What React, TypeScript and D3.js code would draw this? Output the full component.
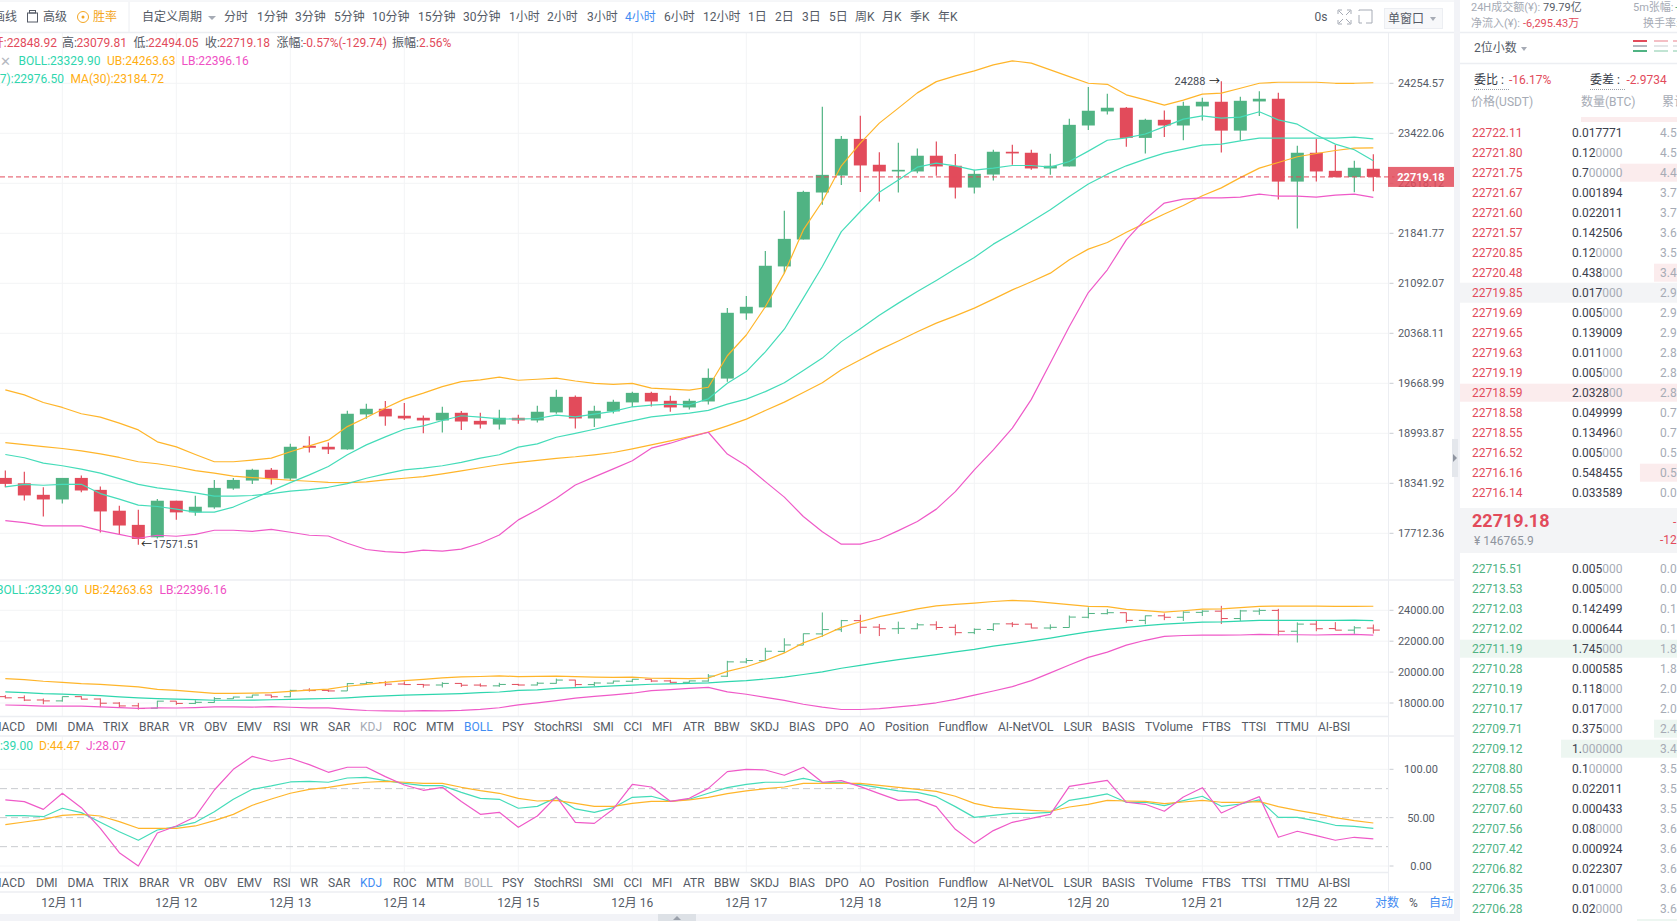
import React, { useEffect, useRef } from "react";
import * as d3 from "d3";

const width = 1677;
const height = 921;

// 4h candles, 12-10 12:00 to 12-22 12:00
const open = [
  18411, 18342, 18195, 18136, 18411, 18258, 17994, 17817, 17663, 18120,
  17973, 18036, 18275, 18377, 18516, 18403, 18829, 18816, 18781, 19246,
  19322, 19228, 19201, 19165, 19268, 19160, 19111, 19201, 19165, 19273,
  19484, 19192, 19286, 19408, 19538, 19430, 19340, 19421, 19734, 20653,
  20740, 21342, 21747, 22473, 22741, 23331, 22913, 22806, 22806, 23058,
  22897, 22551, 22757, 23122, 23106, 22854, 22886, 23550, 23783, 23844,
  23347, 23644, 23550, 23866, 23944, 23466, 23949, 23994, 22645, 23106,
  22816, 22715, 22848.92,
];
const close = [
  18334, 18187, 18136, 18411, 18250, 17985, 17809, 17643, 18120, 17973,
  18044, 18283, 18385, 18516, 18403, 18816, 18803, 18781, 19255, 19322,
  19219, 19192, 19165, 19268, 19151, 19111, 19201, 19165, 19282, 19484,
  19192, 19295, 19417, 19538, 19421, 19340, 19430, 19744, 20662, 20749,
  21352, 21757, 22483, 22752, 23331, 22902, 22806, 22832, 23058, 22886,
  22551, 22768, 23122, 23095, 22854, 22897, 23561, 23794, 23844, 23347,
  23644, 23550, 23877, 23944, 23466, 23960, 23994, 22645, 23106, 22806,
  22715, 22865, 22719.18,
];
const high = [
  18507, 18490, 18292, 18411, 18442, 18300, 18057, 18006, 18141, 18120,
  18183, 18385, 18411, 18529, 18538, 18855, 18955, 18872, 19295, 19390,
  19426, 19399, 19232, 19349, 19291, 19268, 19309, 19241, 19363, 19579,
  19502, 19363, 19444, 19552, 19552, 19498, 19457, 19874, 20730, 20904,
  21572, 22188, 22499, 23860, 23379, 23711, 23116, 23267, 23175, 23288,
  23084, 22832, 23154, 23234, 23154, 23090, 23661, 24194, 24077, 23855,
  23661, 23799, 23944, 24010, 24288, 24027, 24121, 24094, 23218, 23331,
  23234, 22977, 23079.81,
];
const low = [
  18292, 18124, 17922, 18086, 18229, 17721, 17704, 17571.51, 17647, 17880,
  17931, 18019, 18258, 18334, 18325, 18377, 18742, 18720, 18777, 19187,
  19093, 19170, 18994, 19003, 19039, 19057, 19044, 19120, 19138, 19255,
  19057, 19079, 19260, 19345, 19354, 19282, 19313, 19381, 19692, 20561,
  20740, 21242, 21747, 22281, 22592, 22483, 22333, 22473, 22779, 22736,
  22380, 22457, 22661, 22913, 22832, 22752, 22886, 23478, 23733, 23202,
  23095, 23363, 23309, 23633, 23111, 23309, 23705, 22364, 21914, 22645,
  22715, 22478, 22494.05,
];

const ma7 = [
  18295, 18329, 18317, 18329, 18329, 18211, 18141, 18065, 18047, 18015,
  17977, 17977, 18040, 18141, 18245, 18350, 18450, 18558, 18711, 18841,
  18946, 19048, 19093, 19164, 19228, 19210, 19187, 19183, 19191, 19237,
  19214, 19250, 19286, 19349, 19372, 19385, 19376, 19457, 19669, 19831,
  20106, 20426, 20875, 21341, 21867, 22177, 22478, 22671, 22875, 22940,
  22896, 22827, 22859, 22901, 22901, 22875, 22965, 23132, 23309, 23346,
  23411, 23532, 23655, 23710, 23672, 23688, 23777, 23643, 23572, 23395,
  23245, 23154, 22976.5,
];
const ma30 = [
  18871, 18845, 18819, 18793, 18763, 18724, 18676, 18620, 18594, 18555,
  18506, 18472, 18433, 18415, 18398, 18381, 18368, 18355, 18350, 18359,
  18385, 18407, 18428, 18463, 18502, 18542, 18581, 18611, 18639, 18665,
  18685, 18711, 18741, 18789, 18841, 18893, 18950, 19009, 19093, 19183,
  19299, 19412, 19542, 19677, 19855, 19995, 20134, 20260, 20391, 20513,
  20618, 20730, 20860, 20995, 21116, 21242, 21442, 21602, 21701, 21857,
  21997, 22137, 22271, 22422, 22546, 22708, 22859, 22949, 23041, 23094,
  23142, 23181, 23184.72,
];
const boll = [
  18715, 18672, 18603, 18568, 18525, 18472, 18402, 18329, 18283, 18254,
  18220, 18179, 18179, 18186, 18211, 18241, 18261, 18291, 18338, 18407,
  18463, 18515, 18538, 18568, 18611, 18668, 18711, 18811, 18854, 18942,
  18994, 19048, 19106, 19160, 19214, 19241, 19264, 19301, 19385, 19453,
  19555, 19677, 19845, 20018, 20250, 20433, 20626, 20802, 20970, 21134,
  21307, 21476, 21677, 21842, 22022, 22204, 22410, 22607, 22763, 22896,
  23004, 23100, 23165, 23229, 23245, 23298, 23342, 23342, 23342, 23342,
  23342, 23358, 23329.9,
];
const ub = [
  19579, 19511, 19407, 19340, 19255, 19210, 19129, 19039, 18881, 18815,
  18715, 18620, 18620, 18642, 18668, 18750, 18828, 18903, 19083, 19205,
  19332, 19453, 19534, 19623, 19691, 19715, 19753, 19711, 19725, 19739,
  19701, 19669, 19655, 19669, 19602, 19588, 19575, 19615, 20051, 20344,
  20749, 21242, 21893, 22333, 22896, 23261, 23589, 23838, 24093, 24283,
  24380, 24467, 24570, 24639, 24599, 24484, 24369, 24255, 24238, 24060,
  23976, 23888, 23971, 24071, 24088, 24171, 24255, 24272, 24272, 24272,
  24255, 24255, 24263.63,
];
const lb = [
  17871, 17845, 17804, 17804, 17804, 17745, 17700, 17651, 17688, 17676,
  17700, 17750, 17750, 17737, 17762, 17725, 17688, 17679, 17590, 17513,
  17488, 17476, 17505, 17493, 17518, 17590, 17691, 17879, 18005, 18151,
  18320, 18424, 18528, 18633, 18798, 18863, 18942, 19008, 18720, 18568,
  18363, 18166, 17921, 17732, 17578, 17578, 17639, 17745, 17858, 18014,
  18236, 18515, 18776, 19062, 19449, 19949, 20464, 20956, 21292, 21742,
  22059, 22308, 22370, 22390, 22390, 22401, 22447, 22416, 22416, 22401,
  22432, 22447, 22396.16,
];

const kValues = [
  52.1, 52.1, 51, 59.7, 55.2, 45.2, 35.5, 26.6, 37.2, 40.7,
  45.2, 56.2, 69, 79.3, 82.8, 86.9, 87.6, 86.6, 91, 91.7,
  88.3, 85.5, 83.1, 83.1, 76.2, 70, 69, 59.7, 61.7, 70.7,
  59, 55.5, 60.3, 71, 72.1, 66.9, 69, 75.2, 81, 84.5,
  86.6, 86.6, 90.7, 86.6, 86.2, 84.1, 81, 77.6, 76.2, 71.7,
  61.4, 50.3, 52.4, 54.5, 54.5, 55.5, 67.9, 71, 74.5, 65.9,
  65.9, 62.4, 67.6, 72.1, 61.7, 64.1, 68.3, 50.3, 50.3, 46.6,
  42.1, 41, 39,
];
const dValues = [
  42.8, 45.5, 48.3, 52.4, 53.4, 51.7, 45.9, 39, 39, 39,
  41.4, 46.9, 53.4, 62.8, 69.3, 75.2, 79.3, 81.4, 84.5, 86.6,
  87.6, 86.6, 85.5, 85.5, 81.4, 77.9, 75.2, 70, 67.2, 67.9,
  64.8, 61.7, 61.7, 64.8, 66.9, 66.9, 68.3, 71, 74.8, 77.6,
  80, 81.7, 85.5, 85.5, 85.5, 85.5, 83.4, 81.4, 79.3, 77.2,
  72.1, 64.8, 60.7, 59, 57.6, 56.6, 61, 63.8, 67.9, 67.2,
  66.9, 64.5, 66.2, 67.9, 65.9, 65.9, 66.6, 61.4, 57.6, 54.1,
  50, 46.9, 44.47,
];
const jValues = [
  68.3, 66.6, 58.6, 75.2, 60.3, 39, 13.8, 0, 34.1, 41.4,
  51, 78.6, 100, 113.4, 108.3, 111.4, 104.8, 96.9, 102.1, 102.1,
  92.4, 83.8, 78.3, 81.4, 66.6, 53.4, 55.5, 40, 51.7, 71.7,
  45.2, 44.1, 59, 84.5, 81.7, 66.9, 70, 80.3, 97.6, 100,
  99.3, 93.8, 102.1, 86.6, 88.3, 82.1, 74.8, 67.9, 68.6, 61.4,
  37.9, 23.4, 36.6, 45.2, 49.3, 53.4, 82.4, 85.5, 88.6, 65.9,
  63.8, 56.6, 71.4, 81, 54.8, 63.8, 71.7, 29.7, 35.9, 31.4,
  26.6, 29.7, 28.07,
];

const priceTicks = [24254.57, 23422.06, 22618.12, 21841.77, 21092.07, 20368.11, 19668.99, 18993.87, 18341.92, 17712.36];
const bollTicks = [24000, 22000, 20000, 18000];
const kdjTicks = [100, 50, 0];
const kdjDashed = [80, 50, 20];
const dateLabels = ["12月 11", "12月 12", "12月 13", "12月 14", "12月 15", "12月 16", "12月 17", "12月 18", "12月 19", "12月 20", "12月 21", "12月 22"];
const lastPrice = 22719.18;

const periods = ["分时", "1分钟", "3分钟", "5分钟", "10分钟", "15分钟", "30分钟", "1小时", "2小时", "3小时", "4小时", "6小时", "12小时", "1日", "2日", "3日", "5日", "周K", "月K", "季K", "年K"];
const periodX = [224, 257, 295, 334, 372, 418, 463, 509, 547, 587, 625, 664, 703, 748, 775, 802, 829, 855, 882, 910, 938];

const indicators = ["DMI", "DMA", "TRIX", "BRAR", "VR", "OBV", "EMV", "RSI", "WR", "SAR", "KDJ", "ROC", "MTM", "BOLL", "PSY", "StochRSI", "SMI", "CCI", "MFI", "ATR", "BBW", "SKDJ", "BIAS", "DPO", "AO", "Position", "Fundflow", "AI-NetVOL", "LSUR", "BASIS", "TVolume", "FTBS", "TTSI", "TTMU", "AI-BSI"];
const indicatorX = [36, 67.5, 103, 139, 179, 204, 237, 273, 300, 328, 360, 393, 426, 464, 502, 534, 593, 623.5, 652, 683, 714, 750, 789, 825, 859, 885, 938.5, 998, 1063.5, 1102, 1145, 1202, 1241.5, 1276, 1318];

const askPrices = ["22722.11", "22721.80", "22721.75", "22721.67", "22721.60", "22721.57", "22720.85", "22720.48", "22719.85", "22719.69", "22719.65", "22719.63", "22719.19", "22718.59", "22718.58", "22718.55", "22716.52", "22716.16", "22716.14"];
const askQty = ["0.017771", "0.120000", "0.700000", "0.001894", "0.022011", "0.142506", "0.120000", "0.438000", "0.017000", "0.005000", "0.139009", "0.011000", "0.005000", "2.032800", "0.049999", "0.134960", "0.005000", "0.548455", "0.033589"];
const askTotal = ["4.5", "4.5", "4.4", "3.7", "3.7", "3.6", "3.5", "3.4", "2.9", "2.9", "2.9", "2.8", "2.8", "2.8", "0.7", "0.7", "0.5", "0.5", "0.0"];
const bidPrices = ["22715.51", "22713.53", "22712.03", "22712.02", "22711.19", "22710.28", "22710.19", "22710.17", "22709.71", "22709.12", "22708.80", "22708.55", "22707.60", "22707.56", "22707.42", "22706.82", "22706.35", "22706.28"];
const bidQty = ["0.005000", "0.005000", "0.142499", "0.000644", "1.745000", "0.000585", "0.118000", "0.017000", "0.375000", "1.000000", "0.100000", "0.022011", "0.000433", "0.080000", "0.000924", "0.022307", "0.010000", "0.020000"];
const bidTotal = ["0.0", "0.0", "0.1", "0.1", "1.8", "1.8", "2.0", "2.0", "2.4", "3.4", "3.5", "3.5", "3.5", "3.6", "3.6", "3.6", "3.6", "3.6"];

const green = "#50b383";
const red = "#e24b5b";
const teal = "#45dcb9";
const orange = "#ffb52a";
const pink = "#ef5ac8";
const gridColor = "#f3f4f6";
const lineColor = "#eceef2";
const panelBg = "#f2f3f7";
const textColor = "#555b66";
const mutedColor = "#a6abb5";
const blue = "#3f8cf2";
const font = 'Roboto, "Noto Sans CJK SC", sans-serif';

type Sel = d3.Selection<any, unknown, null, undefined>;

const label = (
  g: Sel,
  x: number,
  y: number,
  value: string,
  color: string,
  size = 12,
  anchor = "start",
  weight = "normal"
) =>
  g
    .append("text")
    .attr("x", x)
    .attr("y", y)
    .attr("dy", "0.35em")
    .attr("fill", color)
    .attr("font-size", size)
    .attr("font-weight", weight)
    .attr("text-anchor", anchor)
    .text(value);

const hLine = (g: Sel, x1: number, x2: number, y: number, color: string, w = 1) =>
  g
    .append("line")
    .attr("x1", x1)
    .attr("x2", x2)
    .attr("y1", y)
    .attr("y2", y)
    .attr("stroke", color)
    .attr("stroke-width", w);

const App = () => {
  const ref = useRef(null);

  useEffect(() => {
    const svg = d3.select(ref.current);
    svg.selectAll("*").remove();
    svg.append("rect").attr("width", width).attr("height", height).attr("fill", "white");

    const xScale = d3.scaleLinear().domain([0, 72]).range([5.33, 1373.33]);
    const priceScale = d3.scaleLog().domain([17712.36, 24254.57]).range([533.3, 83.3]);
    const bollScale = d3.scaleLinear().domain([18000, 24000]).range([703, 610.3]);
    const kdjScale = d3.scaleLinear().domain([0, 100]).range([866, 769.3]);
    const axisX = 1388.5;
    const index = d3.range(open.length);
    const dateIndex = dateLabels.map((_, i) => 3 + i * 6);

    // grid
    const grid = svg.append("g");
    const panes = [
      [33, 580],
      [580, 716],
      [736, 872],
    ];
    panes.forEach(([top, bottom]) => {
      grid
        .selectAll(null)
        .data(dateIndex)
        .enter()
        .append("line")
        .attr("x1", (d) => xScale(d))
        .attr("x2", (d) => xScale(d))
        .attr("y1", top)
        .attr("y2", bottom)
        .attr("stroke", gridColor);
    });
    priceTicks.forEach((t) => hLine(grid, 0, axisX, priceScale(t), gridColor));
    bollTicks.forEach((t) => hLine(grid, 0, axisX, bollScale(t), gridColor));
    kdjTicks.filter((t) => t !== 50).forEach((t) => hLine(grid, 0, axisX, kdjScale(t), gridColor));
    kdjDashed.forEach((t) =>
      hLine(grid, 0, axisX, kdjScale(t), "#c9cbcf").attr("stroke-dasharray", "7 4")
    );

    // separators
    hLine(svg, 0, 1454, 1, lineColor);
    hLine(svg, 0, 1454, 32.5, lineColor, 1.5);
    hLine(svg, 0, 1454, 580, lineColor, 1.5);
    hLine(svg, 0, axisX, 716.5, lineColor, 1.5);
    hLine(svg, 0, 1454, 736, lineColor, 1.5);
    hLine(svg, 0, axisX, 872.5, lineColor, 1.5);
    hLine(svg, 0, 1454, 892, lineColor, 1.5);
    svg
      .append("line")
      .attr("x1", axisX)
      .attr("x2", axisX)
      .attr("y1", 33)
      .attr("y2", 892)
      .attr("stroke", lineColor);

    // main candles
    const candles = svg.append("g");
    candles
      .selectAll("line")
      .data(index)
      .enter()
      .append("line")
      .attr("x1", (i) => xScale(i))
      .attr("x2", (i) => xScale(i))
      .attr("y1", (i) => priceScale(high[i]))
      .attr("y2", (i) => priceScale(low[i]))
      .attr("stroke", (i) => (close[i] >= open[i] ? green : red))
      .attr("stroke-width", 1.2);
    candles
      .selectAll("rect")
      .data(index)
      .enter()
      .append("rect")
      .attr("x", (i) => xScale(i) - 6.5)
      .attr("width", 13)
      .attr("y", (i) => priceScale(Math.max(open[i], close[i])))
      .attr("height", (i) => Math.abs(priceScale(open[i]) - priceScale(close[i])))
      .attr("fill", (i) => (close[i] >= open[i] ? green : red));

    const drawLine = (g: Sel, values: number[], scale: (v: number) => number, color: string) => {
      const line = d3
        .line<number>()
        .x((_, i) => xScale(i))
        .y((d) => scale(d));
      g.append("path")
        .datum(values)
        .attr("d", line)
        .attr("fill", "none")
        .attr("stroke", color)
        .attr("stroke-width", 1.2)
        .attr("stroke-linejoin", "round");
    };

    const mainLines = svg.append("g");
    drawLine(mainLines, ma30, priceScale, orange);
    drawLine(mainLines, ma7, priceScale, teal);
    drawLine(mainLines, ub, priceScale, orange);
    drawLine(mainLines, boll, priceScale, teal);
    drawLine(mainLines, lb, priceScale, pink);

    // last price
    hLine(svg, 0, axisX + 6, priceScale(lastPrice), red).attr("stroke-dasharray", "5 3");

    // price axis
    const axis = svg.append("g");
    priceTicks.forEach((t) => {
      hLine(axis, axisX + 1, axisX + 5, priceScale(t), "#c9ccd2");
      label(axis, 1421, priceScale(t), t.toFixed(2), textColor, 11, "middle");
    });
    bollTicks.forEach((t) => {
      hLine(axis, axisX + 1, axisX + 5, bollScale(t), "#c9ccd2");
      label(axis, 1421, bollScale(t), t.toFixed(2), textColor, 11, "middle");
    });
    kdjTicks.forEach((t) => {
      hLine(axis, axisX + 1, axisX + 5, kdjScale(t), "#c9ccd2");
      label(axis, 1421, kdjScale(t), t.toFixed(2), textColor, 11, "middle");
    });
    axis
      .append("rect")
      .attr("x", 1388)
      .attr("y", priceScale(lastPrice) - 10)
      .attr("width", 66)
      .attr("height", 20)
      .attr("fill", red)
      .attr("opacity", 0.85);
    label(axis, 1421, priceScale(lastPrice), lastPrice.toFixed(2), "white", 11, "middle", "bold");

    // high / low marks
    label(svg, 1205.5, priceScale(24288) - 0.5, "24288", "#444a55", 11, "end");
    label(svg, 1209, priceScale(24288), "→", "#222", 11);
    label(svg, 141, priceScale(17571.51) - 0.5, "←", "#222", 11);
    label(svg, 153, priceScale(17571.51) - 0.5, "17571.51", "#444a55", 11);

    // boll pane: open/close ticks
    const ohlc = svg.append("g");
    index.forEach((i) => {
      const c = close[i] >= open[i] ? green : red;
      const x = xScale(i);
      ohlc
        .append("line")
        .attr("x1", x)
        .attr("x2", x)
        .attr("y1", bollScale(high[i]))
        .attr("y2", bollScale(low[i]))
        .attr("stroke", c);
      hLine(ohlc, x - 6.5, x, bollScale(open[i]), c);
      hLine(ohlc, x, x + 6.5, bollScale(close[i]), c);
    });
    drawLine(ohlc, ub, bollScale, orange);
    drawLine(ohlc, boll, bollScale, "#2fd6ae");
    drawLine(ohlc, lb, bollScale, pink);

    // kdj pane
    const kdj = svg.append("g");
    drawLine(kdj, kValues, kdjScale, teal);
    drawLine(kdj, dValues, kdjScale, orange);
    drawLine(kdj, jValues, kdjScale, pink);

    // date axis
    dateLabels.forEach((d, i) => label(svg, xScale(dateIndex[i]), 903, d, textColor, 12, "middle"));
    label(svg, 1375, 903, "对数", blue);
    label(svg, 1409, 903, "%", textColor);
    label(svg, 1429, 903, "自动", blue);

    // indicator tabs
    [
      { y: 726.7, active: "BOLL", off: "KDJ" },
      { y: 882.7, active: "KDJ", off: "BOLL" },
    ].forEach((row) => {
      label(svg, 25, row.y, "MACD", textColor, 12, "end");
      indicators.forEach((name, i) => {
        const color = name === row.active ? blue : name === row.off ? mutedColor : textColor;
        label(svg, indicatorX[i], row.y, name, color);
      });
    });

    // legends
    const legend = svg.append("g");
    label(legend, 57, 42.7, "开:22848.92", red, 12, "end");
    label(legend, 62, 42.7, "高:", textColor);
    label(legend, 76.5, 42.7, "23079.81", red);
    label(legend, 133.5, 42.7, "低:", textColor);
    label(legend, 148, 42.7, "22494.05", red);
    label(legend, 205, 42.7, "收:", textColor);
    label(legend, 219.5, 42.7, "22719.18", red);
    label(legend, 276.5, 42.7, "涨幅:", textColor);
    label(legend, 303, 42.7, "-0.57%(-129.74)", red);
    label(legend, 392, 42.7, "振幅:", textColor);
    label(legend, 419, 42.7, "2.56%", red);
    label(legend, 0, 61, "✕", "#b4b8c0", 13);
    label(legend, 18.5, 60.7, "BOLL:23329.90", "#2fd6ae");
    label(legend, 107, 60.7, "UB:24263.63", "#ffae12");
    label(legend, 181.5, 60.7, "LB:22396.16", "#ef4fc4");
    label(legend, 64, 78.7, "MA(7):22976.50", "#2fd6ae", 12, "end");
    label(legend, 70.5, 78.7, "MA(30):23184.72", "#ffae12");
    label(legend, 78, 589.5, "BOLL:23329.90", "#2fd6ae", 12, "end");
    label(legend, 84.5, 589.5, "UB:24263.63", "#ffae12");
    label(legend, 159.5, 589.5, "LB:22396.16", "#ef4fc4");
    label(legend, 33, 745.7, "K:39.00", "#2fd6ae", 12, "end");
    label(legend, 39, 745.7, "D:44.47", "#ffae12");
    label(legend, 86, 745.7, "J:28.07", "#ef4fc4");

    // toolbar
    const bar = svg.append("g");
    label(bar, 17, 17, "画线", textColor, 12, "end");
    bar.append("rect").attr("x", 27.5).attr("y", 13).attr("width", 10).attr("height", 9).attr("fill", "none").attr("stroke", textColor);
    bar.append("rect").attr("x", 29.5).attr("y", 10.5).attr("width", 6).attr("height", 2.5).attr("fill", "none").attr("stroke", textColor);
    label(bar, 43, 17, "高级", textColor);
    bar.append("circle").attr("cx", 83).attr("cy", 17).attr("r", 5.5).attr("fill", "none").attr("stroke", "#f4a623");
    bar.append("circle").attr("cx", 83).attr("cy", 17).attr("r", 1.5).attr("fill", "#f4a623");
    label(bar, 93, 17, "胜率", "#f4a623");
    bar.append("line").attr("x1", 129).attr("x2", 129).attr("y1", 2).attr("y2", 32).attr("stroke", lineColor);
    label(bar, 142, 17, "自定义周期", textColor);
    bar.append("path").attr("d", "M208 16 L216 16 L212 20 Z").attr("fill", mutedColor);
    periods.forEach((p, i) => label(bar, periodX[i], 17, p, p === "4小时" ? blue : textColor));
    label(bar, 1314.5, 17, "0s", textColor);
    bar
      .append("path")
      .attr("d", "M1338 14 V10 H1342 M1347 10 H1351 V14 M1351 20 V24 H1347 M1342 24 H1338 V20 M1339 11 L1343 15 M1350 11 L1346 15 M1350 23 L1346 19 M1339 23 L1343 19")
      .attr("fill", "none")
      .attr("stroke", mutedColor);
    bar
      .append("path")
      .attr("d", "M1359 11 V10 H1372 V23 H1366 M1359 23 V15 M1359 23 H1362")
      .attr("fill", "none")
      .attr("stroke", mutedColor);
    bar.append("rect").attr("x", 1384.5).attr("y", 8.5).attr("width", 58).attr("height", 20).attr("fill", "#f7f8fa").attr("stroke", lineColor);
    label(bar, 1388, 18.5, "单窗口", textColor);
    bar.append("path").attr("d", "M1430 17 L1436 17 L1433 21 Z").attr("fill", mutedColor);

    // bottom bar and splitters
    svg.append("rect").attr("x", 0).attr("y", 914).attr("width", 1460).attr("height", 7).attr("fill", panelBg);
    svg.append("rect").attr("x", 658).attr("y", 914).attr("width", 38).attr("height", 7).attr("fill", "#dde1e6");
    svg.append("path").attr("d", "M673 920 L681 920 L677 916 Z").attr("fill", "#9aa0aa");
    svg.append("rect").attr("x", 1454).attr("y", 0).attr("width", 6).attr("height", height).attr("fill", panelBg);
    svg.append("rect").attr("x", 1452).attr("y", 439).attr("width", 6).attr("height", 38).attr("fill", "#e4e7ec");
    svg.append("path").attr("d", "M1453 454 L1453 462 L1457 458 Z").attr("fill", "#8f95a0");

    // order book header
    const book = svg.append("g");
    label(book, 1471, 7, "24H成交额(¥):", mutedColor, 11);
    label(book, 1543, 7, "79.79亿", textColor, 11);
    label(book, 1471, 23, "净流入(¥):", mutedColor, 11);
    label(book, 1523, 23, "-6,295.43万", red, 11);
    label(book, 1633, 7, "5m张幅:", mutedColor, 11);
    label(book, 1675, 7, "+", green, 11);
    label(book, 1643, 23, "换手率:", mutedColor, 11);
    hLine(book, 1460, width, 32.5, lineColor, 1.5);
    label(book, 1474, 48, "2位小数", textColor);
    book.append("path").attr("d", "M1521 47 L1527 47 L1524 51 Z").attr("fill", mutedColor);
    [1633, 1654, 1673].forEach((x, i) => {
      const fade = i === 0 ? 1 : 0.35;
      hLine(book, x, x + 14, 41, red, 2).attr("opacity", fade);
      hLine(book, x, x + 14, 46, "#b4b8c0", 2).attr("opacity", fade);
      hLine(book, x, x + 14, 51, green, 2).attr("opacity", fade);
    });
    hLine(book, 1460, width, 63.5, lineColor, 1.5);
    label(book, 1474, 80, "委比 :", "#333844");
    label(book, 1509, 80, "-16.17%", red);
    label(book, 1590, 80, "委差 :", "#333844");
    label(book, 1626.5, 80, "-2.9734", red);
    hLine(book, 1474, 1509, 89.5, "#9a9fa8").attr("stroke-dasharray", "1 1");
    hLine(book, 1590, 1625, 89.5, "#9a9fa8").attr("stroke-dasharray", "1 1");
    label(book, 1471, 102, "价格(USDT)", mutedColor);
    label(book, 1581, 102, "数量(BTC)", mutedColor);
    label(book, 1662, 102, "累计", mutedColor);
    book.append("rect").attr("x", 1581).attr("y", 117).attr("width", 96).attr("height", 5).attr("fill", "#fbeced");

    // depth bar width follows size, not quite linear
    const depth = d3
      .scaleLinear()
      .domain([0.2, 0.375, 0.438, 0.548, 0.7, 1, 1.745])
      .range([0, 23, 23, 37, 57, 116, 217])
      .clamp(true);
    const rowY = d3.scaleLinear().domain([0, 1]).range([132.7, 152.7]);
    const bidY = d3.scaleLinear().domain([0, 1]).range([568.7, 588.7]);

    const qtyCell = (y: number, qty: string) => {
      const dark = qty.replace(/0+$/, "");
      const t = label(book, 1572, y, "", "#3b404c");
      t.append("tspan").text(dark);
      t.append("tspan").attr("fill", mutedColor).text(qty.slice(dark.length));
    };
    const drawRows = (
      prices: string[],
      qtys: string[],
      totals: string[],
      y: (i: number) => number,
      bg: string,
      color: string
    ) => {
      prices.forEach((p, i) => {
        const w = depth(parseFloat(qtys[i]));
        if (w > 0) {
          book
            .append("rect")
            .attr("x", width - w)
            .attr("y", y(i) - 9)
            .attr("width", w)
            .attr("height", 18)
            .attr("fill", bg);
        }
      });
      prices.forEach((p, i) => {
        label(book, 1472, y(i), p, color);
        qtyCell(y(i), qtys[i]);
        label(book, 1660, y(i), totals[i], mutedColor);
      });
    };
    book.append("rect").attr("x", 1460).attr("y", rowY(8) - 10).attr("width", 217).attr("height", 20).attr("fill", "#f3f4f6");
    drawRows(askPrices, askQty, askTotal, rowY, "#fbeced", red);
    book.append("rect").attr("x", 1460).attr("y", 508).attr("width", 217).attr("height", 45).attr("fill", "#f3f4f6");
    label(book, 1472, 521, "22719.18", red, 18, "start", "bold");
    label(book, 1474, 541, "¥ 146765.9", "#8f949e");
    label(book, 1673, 522, "-", red);
    label(book, 1660, 540, "-12", red);
    drawRows(bidPrices, bidQty, bidTotal, bidY, "#edf6f1", green);
    book.append("rect").attr("x", 1637).attr("y", 919).attr("width", 40).attr("height", 2).attr("fill", "#edf6f1");
  }, []);

  return (
    <svg
      ref={ref}
      width={width}
      height={height}
      style={{ position: "absolute", left: 0, top: 0, fontFamily: font }}
    />
  );
};

export default App;
